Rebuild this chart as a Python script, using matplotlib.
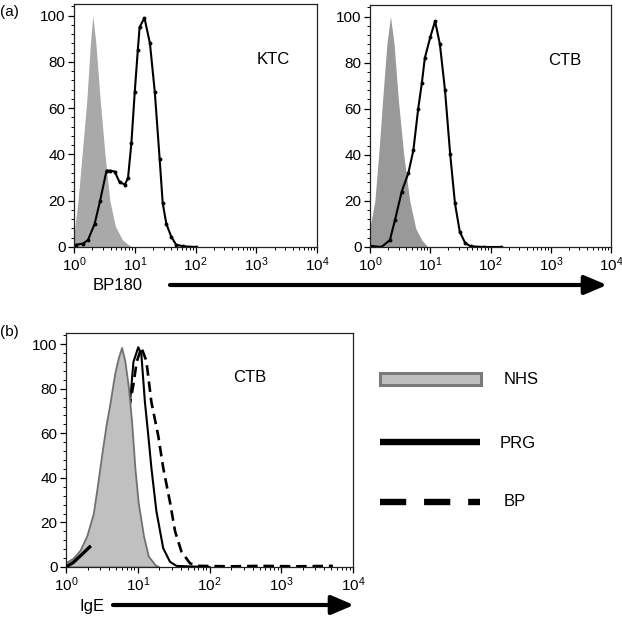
import matplotlib
matplotlib.use("Agg")
import matplotlib.pyplot as plt
import numpy as np
from matplotlib.ticker import AutoMinorLocator, LogLocator, NullFormatter
from matplotlib.patches import Rectangle
from matplotlib.lines import Line2D

plt.rcParams['font.family'] = ['Liberation Sans', 'DejaVu Sans']

# ---- data (log10 of fluorescence, % of max) ----
# (a) KTC
ktc_nhs_log = [0.0, 0.03, 0.066, 0.14, 0.21, 0.27, 0.31, 0.36, 0.43, 0.51, 0.59, 0.68, 0.80, 0.92, 1.0]
ktc_nhs_val = [5, 12, 20, 42, 63, 88, 100, 88, 64, 40, 20, 9, 3, 0.5, 0]
ktc_bp_log = [0.0, 0.04, 0.15, 0.23, 0.34, 0.43, 0.535, 0.60, 0.67, 0.75, 0.84, 0.89, 0.945,
              1.0, 1.05, 1.08, 1.16, 1.25, 1.33, 1.41, 1.46, 1.52, 1.60, 1.68, 1.80, 2.01]
ktc_bp_val = [0.5, 1, 1.5, 3, 10, 20, 33, 33, 32.6, 28, 27, 30, 45,
              67, 85, 95, 99, 88, 67, 38, 19, 10, 4.5, 1, 0.3, 0]
# (a) CTB
ctb_nhs_log = [0.0, 0.04, 0.08, 0.15, 0.21, 0.28, 0.34, 0.40, 0.47, 0.56, 0.66, 0.76, 0.86, 0.96]
ctb_nhs_val = [9, 14, 20, 42, 64, 88, 100, 88, 64, 40, 20, 8, 3, 0]
ctb_bp_log = [0.0, 0.19, 0.33, 0.415, 0.526, 0.636, 0.72, 0.80, 0.86, 0.91, 1.0, 1.08, 1.16,
              1.245, 1.33, 1.41, 1.49, 1.58, 1.67, 1.9, 2.17]
ctb_bp_val = [0.5, 0, 3, 11.7, 24, 32, 42, 60, 71, 82, 91, 98, 88,
              68, 40.5, 19, 6.6, 1.7, 0.3, 0, 0]
# (b) IgE on CTB
ige_nhs_log = [0.0, 0.1, 0.195, 0.29, 0.38, 0.44, 0.50, 0.56, 0.61, 0.68, 0.73, 0.775, 0.82,
               0.87, 0.915, 0.96, 1.006, 1.08, 1.146, 1.24, 1.3]
ige_nhs_val = [2, 4, 7.5, 14, 24, 37, 51, 64, 73, 87, 94, 98.5, 92.5,
               80.6, 65, 44.5, 29, 14, 5, 1, 0]
ige_prg_log = [0.0, 0.1, 0.2, 0.33, 0.5, 0.7, 0.89, 0.94, 1.007, 1.05, 1.10, 1.147, 1.19,
               1.26, 1.355, 1.45, 1.54, 1.7, 2.0]
ige_prg_val = [0, 2, 5, 9, 30, 70, 73, 92, 98.6, 95.5, 74, 59, 44.5,
               25, 8.4, 2.3, 0.5, 0.3, 0]
ige_bp_log = [0.0, 0.1, 0.2, 0.33, 0.5, 0.7, 0.89, 0.94, 0.985, 1.05, 1.12, 1.19, 1.285,
              1.355, 1.45, 1.52, 1.61, 1.73, 1.85, 2.3, 2.7, 3.2, 3.72]
ige_bp_val = [0, 2, 5, 9, 30, 70, 73, 82, 92, 98.5, 92.5, 74, 59,
              44.5, 29, 16, 6.8, 1.6, 0.5, 0.3, 0.5, 0.3, 0.5]

W, H = 622, 619
fig = plt.figure(figsize=(W / 100, H / 100), dpi=100)


def px_axes(x0, y0, x1, y1):
    return fig.add_axes([x0 / W, (H - y1) / H, (x1 - x0) / W, (y1 - y0) / H])


def style(ax):
    ax.set_xscale('log')
    ax.set_xlim(1, 1e4)
    ax.set_ylim(0, 105)
    ax.set_yticks([0, 20, 40, 60, 80, 100])
    ax.yaxis.set_minor_locator(AutoMinorLocator(5))
    ax.xaxis.set_major_locator(LogLocator(base=10, numticks=10))
    ax.xaxis.set_minor_locator(LogLocator(base=10, subs=np.arange(2, 10), numticks=10))
    ax.xaxis.set_minor_formatter(NullFormatter())
    ax.tick_params(which='major', direction='out', length=4, width=0.9, labelsize=11, pad=2)
    ax.tick_params(which='minor', direction='out', length=2.2, width=0.7)
    for s in ax.spines.values():
        s.set_linewidth(0.9)
        s.set_color('#222222')


def tolin(lg):
    return 10 ** np.asarray(lg)


line_kw = dict(color='black', lw=1.5, marker='o', ms=1.8)

# (a) KTC
ax1 = px_axes(74, 4, 317, 247)
style(ax1)
ax1.fill_between(tolin(ktc_nhs_log), ktc_nhs_val, color='#a9a9a9', lw=0)
ax1.plot(tolin(ktc_bp_log), ktc_bp_val, **line_kw)
ax1.text(0.82, 0.77, 'KTC', transform=ax1.transAxes, ha='center', va='center', fontsize=12)

# (a) CTB
ax2 = px_axes(370, 5, 611, 247)
style(ax2)
ax2.fill_between(tolin(ctb_nhs_log), ctb_nhs_val, color='#999999', lw=0)
ax2.plot(tolin(ctb_bp_log), ctb_bp_val, **line_kw)
ax2.text(0.81, 0.77, 'CTB', transform=ax2.transAxes, ha='center', va='center', fontsize=12)

# (b) IgE
ax3 = px_axes(66, 333, 353, 567)
style(ax3)
prg_x = tolin(ige_prg_log)
ax3.plot(prg_x, ige_prg_val, color='black', lw=1.5, zorder=1)
ax3.plot(tolin(ige_bp_log), ige_bp_val, color='black', lw=1.9, ls=(0, (4, 2.2)), zorder=1)
ax3.fill_between(tolin(ige_nhs_log), ige_nhs_val, facecolor='#c0c0c0', edgecolor='#707070',
                 lw=1.3, zorder=2)
left = prg_x <= 10 ** 0.33
ax3.plot(prg_x[left], np.asarray(ige_prg_val)[left], color='black', lw=2.4, zorder=3)
ax3.text(0.64, 0.81, 'CTB', transform=ax3.transAxes, ha='center', va='center', fontsize=12)

# overlay: panel labels, axis arrows, legend
ov = fig.add_axes([0, 0, 1, 1], facecolor='none')
ov.set_xlim(0, W)
ov.set_ylim(H, 0)
ov.axis('off')

ov.text(0, 12, '(a)', ha='left', va='center', fontsize=11)
ov.text(0, 332, '(b)', ha='left', va='center', fontsize=11)

arrow_style = '-|>,head_length=0.85,head_width=0.36'
ov.text(118, 285, 'BP180', ha='center', va='center', fontsize=12)
ov.annotate('', xy=(607, 285), xytext=(170, 285),
            arrowprops=dict(arrowstyle=arrow_style, lw=3, color='black', mutation_scale=16,
                            shrinkA=0, shrinkB=0))
ov.text(92, 607, 'IgE', ha='center', va='center', fontsize=12)
ov.annotate('', xy=(354, 605), xytext=(113, 605),
            arrowprops=dict(arrowstyle=arrow_style, lw=3, color='black', mutation_scale=16,
                            shrinkA=0, shrinkB=0))

ov.add_patch(Rectangle((380, 373), 101, 12, facecolor='#c0c0c0', edgecolor='#7a7a7a', lw=2.2))
ov.text(504, 379, 'NHS', ha='left', va='center', fontsize=12)
ov.add_line(Line2D([380, 480], [442, 442], color='black', lw=4.6, solid_capstyle='butt'))
ov.text(500, 443, 'PRG', ha='left', va='center', fontsize=12)
ov.add_line(Line2D([380, 480], [502, 502], color='black', lw=4.6,
                   ls=(0, (4.1, 2.8)), dash_capstyle='butt'))
ov.text(504, 502, 'BP', ha='left', va='center', fontsize=12)

fig.savefig('out.png', dpi=100)
